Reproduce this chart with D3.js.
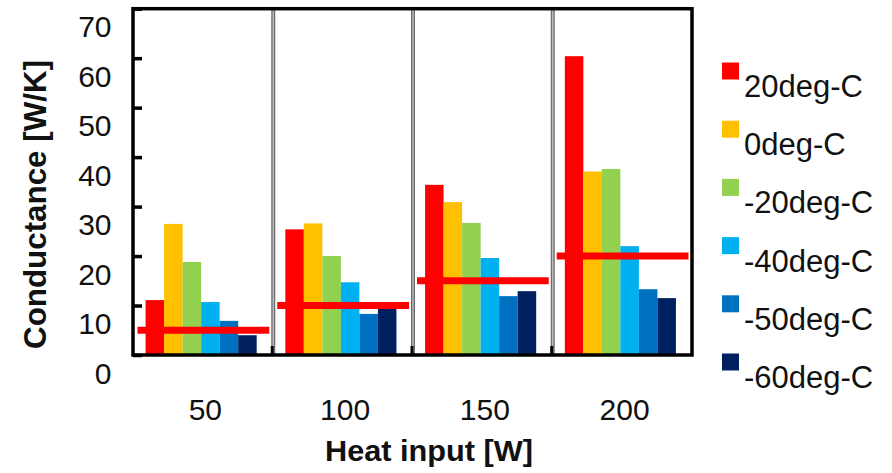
<!DOCTYPE html>
<html>
<head>
<meta charset="utf-8">
<script src="https://cdn.jsdelivr.net/npm/d3@7"></script>
<style>
  body { margin: 0; background: #fff; }
  text { font-family: "Liberation Sans", Arial, sans-serif; fill: #111; }
</style>
</head>
<body>
<div id="chart"></div>
<script>
// data
const heatInputs = ["50", "100", "150", "200"]
const seriesNames = ["20deg-C", "0deg-C", "-20deg-C", "-40deg-C", "-50deg-C", "-60deg-C"]
const seriesColors = ["#ff0000", "#ffc000", "#92d050", "#00b0f0", "#0070c0", "#002060"]
const val20 = [11.1, 25.4, 34.4, 60.4]
const val0 = [26.5, 26.6, 30.9, 37.1]
const valM20 = [18.8, 20.0, 26.7, 37.6]
const valM40 = [10.7, 14.7, 19.6, 22.0]
const valM50 = [6.9, 8.3, 11.9, 13.3]
const valM60 = [4.0, 10.6, 12.9, 11.5]
const refLine = [5, 10, 15, 20]
const yTicks = [0, 10, 20, 30, 40, 50, 60, 70]

const seriesValues = [val20, val0, valM20, valM40, valM50, valM60]

let dimensions = {
    width: 892,
    height: 473,
    margin: { top: 8.7, right: 200, bottom: 118, left: 133 },
}
dimensions.boundedWidth = dimensions.width - dimensions.margin.left - dimensions.margin.right
dimensions.boundedHeight = dimensions.height - dimensions.margin.top - dimensions.margin.bottom

const wrapper = d3.select("#chart").append("svg")
    .attr("width", dimensions.width)
    .attr("height", dimensions.height)

const bounds = wrapper.append("g")
    .attr("transform", `translate(${dimensions.margin.left},${dimensions.margin.top})`)

// scales
const yScale = d3.scaleLinear()
    .domain([0, 70])
    .range([dimensions.boundedHeight, 0])

const x0 = d3.scaleBand()
    .domain(heatInputs)
    .range([0, dimensions.boundedWidth])

const bw = x0.bandwidth()
const x1 = d3.scaleBand()
    .domain(seriesNames)
    .range([bw * 0.09, bw * 0.885])

// bars
const rows = []
heatInputs.forEach((h, i) => {
    seriesNames.forEach((s, j) => {
        rows.push({ heat: h, series: s, value: seriesValues[j][i], color: seriesColors[j] })
    })
})

bounds.append("g").selectAll("rect")
    .data(rows)
    .enter().append("rect")
    .attr("x", d => x0(d.heat) + x1(d.series))
    .attr("width", x1.bandwidth())
    .attr("y", d => yScale(d.value))
    .attr("height", d => yScale(0) - yScale(d.value))
    .attr("fill", d => d.color)

// red reference lines
bounds.append("g").selectAll("line")
    .data(heatInputs)
    .enter().append("line")
    .attr("x1", d => x0(d) + 4.5)
    .attr("x2", d => x0(d) + bw - 3.5)
    .attr("y1", (d, i) => yScale(refLine[i]))
    .attr("y2", (d, i) => yScale(refLine[i]))
    .attr("stroke", "#ff0000")
    .attr("stroke-width", 7)

// group separators
const seps = heatInputs.slice(1)
const sepG = bounds.append("g")
sepG.selectAll(".sep-outer")
    .data(seps)
    .enter().append("line")
    .attr("x1", d => x0(d) + 0.5)
    .attr("x2", d => x0(d) + 0.5)
    .attr("y1", 0)
    .attr("y2", dimensions.boundedHeight)
    .attr("stroke", "#6e6e6e")
    .attr("stroke-width", 4)
sepG.selectAll(".sep-inner")
    .data(seps)
    .enter().append("line")
    .attr("x1", d => x0(d) + 0.5)
    .attr("x2", d => x0(d) + 0.5)
    .attr("y1", 0)
    .attr("y2", dimensions.boundedHeight)
    .attr("stroke", "#c8c8c8")
    .attr("stroke-width", 1.2)
sepG.selectAll(".sep-tick")
    .data(seps)
    .enter().append("line")
    .attr("x1", d => x0(d) - 0.5)
    .attr("x2", d => x0(d) - 0.5)
    .attr("y1", dimensions.boundedHeight - 9)
    .attr("y2", dimensions.boundedHeight)
    .attr("stroke", "#000")
    .attr("stroke-width", 3)

// y axis, ticks inward, labels sit below their ticks
const yAxisGenerator = d3.axisLeft(yScale)
    .tickValues(yTicks)
    .tickSize(-9)
    .tickPadding(21.5)

const yAxis = bounds.append("g")
    .call(yAxisGenerator)
yAxis.select(".domain").remove()
yAxis.selectAll(".tick line")
    .attr("stroke", "#000")
    .attr("stroke-width", 3.5)
yAxis.selectAll(".tick text")
    .attr("y", 28)
    .attr("dy", 0)
    .style("font-size", "30px")
    .style("font-family", '"Liberation Sans", Arial, sans-serif')
    .attr("fill", "#222")

// x axis labels
const xAxisGenerator = d3.axisBottom(x0)
    .tickSize(0)
    .tickPadding(44)

const xAxis = bounds.append("g")
    .attr("transform", `translate(0,${dimensions.boundedHeight})`)
    .call(xAxisGenerator)
xAxis.select(".domain").remove()
xAxis.selectAll(".tick text")
    .attr("dx", 2.5)
    .style("font-size", "30px")
    .style("font-family", '"Liberation Sans", Arial, sans-serif')
    .attr("fill", "#222")

// frame
bounds.append("rect")
    .attr("width", dimensions.boundedWidth)
    .attr("height", dimensions.boundedHeight)
    .attr("fill", "none")
    .attr("stroke", "#000")
    .attr("stroke-width", 3.5)

// axis titles
wrapper.append("text")
    .attr("x", 325)
    .attr("y", 461)
    .attr("textLength", 208)
    .attr("lengthAdjust", "spacingAndGlyphs")
    .style("font-size", "30px")
    .style("font-weight", "bold")
    .text("Heat input [W]")

wrapper.append("text")
    .attr("transform", "translate(46,349) rotate(-90)")
    .attr("textLength", 289)
    .attr("lengthAdjust", "spacingAndGlyphs")
    .style("font-size", "31px")
    .style("font-weight", "bold")
    .text("Conductance [W/K]")

// legend
const legend = wrapper.append("g")
    .attr("transform", "translate(722,97)")

const legendItems = legend.selectAll("g")
    .data(seriesNames)
    .enter().append("g")
    .attr("transform", (d, i) => `translate(0,${i * 58.2})`)

legendItems.append("rect")
    .attr("x", 0)
    .attr("y", -34.5)
    .attr("width", 17)
    .attr("height", 17)
    .attr("fill", (d, i) => seriesColors[i])

legendItems.append("text")
    .attr("x", 22)
    .attr("y", 0)
    .style("font-size", "31px")
    .attr("fill", "#222")
    .text(d => d)
</script>
</body>
</html>
